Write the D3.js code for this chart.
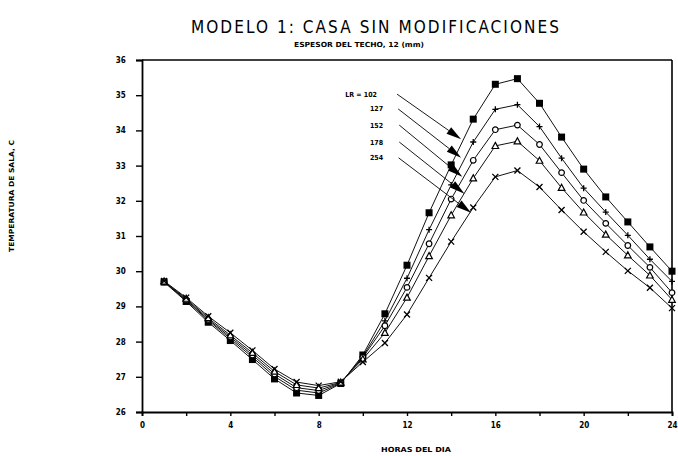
<!DOCTYPE html>
<html><head><meta charset="utf-8">
<script src="https://cdn.jsdelivr.net/npm/d3@7"></script>
<style>body{margin:0;background:#fff}svg{display:block}</style>
</head><body><svg id="c" width="678" height="456"></svg>
<script>
const hours = [1,2,3,4,5,6,7,8,9,10,11,12,13,14,15,16,17,18,19,20,21,22,23,24];
const lr102 = [29.69,29.14,28.55,28.03,27.49,26.94,26.54,26.47,26.81,27.62,28.79,30.17,31.66,33.02,34.32,35.31,35.47,34.77,33.81,32.90,32.11,31.40,30.69,30.00];
const lr127 = [29.70,29.17,28.60,28.08,27.56,27.01,26.62,26.54,26.82,27.58,28.59,29.80,31.18,32.45,33.67,34.60,34.73,34.11,33.21,32.36,31.68,31.02,30.34,29.71];
const lr152 = [29.70,29.19,28.63,28.13,27.62,27.08,26.69,26.61,26.83,27.55,28.45,29.54,30.78,32.05,33.15,34.02,34.15,33.60,32.80,32.01,31.36,30.73,30.11,29.39];
const lr178 = [29.71,29.22,28.67,28.18,27.68,27.15,26.77,26.68,26.84,27.50,28.25,29.25,30.43,31.59,32.64,33.56,33.69,33.14,32.37,31.67,31.04,30.45,29.88,29.19];
const lr254 = [29.72,29.25,28.72,28.25,27.75,27.22,26.85,26.75,26.86,27.42,27.96,28.77,29.81,30.84,31.81,32.68,32.86,32.39,31.74,31.12,30.55,30.01,29.53,28.95];
const seriesNames = ["LR = 102","127","152","178","254"];
const seriesMarkers = ["square","plus","circle","triangle","cross"];
// label end (hour, temperature), arrow start and arrow tip (hour, temperature)
const labelAt = [[10.64,35.03],[10.92,34.61],[10.92,34.15],[10.92,33.67],[10.92,33.22]];
const arrowStart = [[11.55,35.03],[11.6,34.61],[11.65,34.15],[11.65,33.67],[11.62,33.22]];
const arrowTip = [[14.45,33.75],[14.45,33.22],[14.5,32.68],[14.6,32.2],[14.9,31.66]];
const xTicks = [0,2,4,6,8,10,12,14,16,18,20,22,24];
const xTickLabels = [0,4,8,12,16,20,24];
const yTicks = [26,27,28,29,30,31,32,33,34,35,36];
const title = "MODELO 1: CASA SIN MODIFICACIONES";
const subtitle = "ESPESOR DEL TECHO, 12 (mm)";
const xTitle = "HORAS DEL DIA";
const yTitle = "TEMPERATURA DE SALA, C";

const data = [lr102, lr127, lr152, lr178, lr254];
const svg = d3.select("#c");
const x = d3.scaleLinear().domain([0,24]).range([142,672]);
const y = d3.scaleLinear().domain([26,36]).range([412,60]);
const F = "'Liberation Sans Narrow','DejaVu Sans Condensed',sans-serif";

// frame
const g = svg.append("g");
g.append("line").attr("x1",x(24)).attr("x2",x(24)).attr("y1",y(36)).attr("y2",y(26)).attr("stroke","#000").attr("stroke-width",1.6);
g.append("line").attr("x1",x(0)).attr("x2",x(24)).attr("y1",y(36)).attr("y2",y(36)).attr("stroke","#000").attr("stroke-width",1.6);

const xAxis = d3.axisBottom(x).tickValues(xTicks).tickSize(4).tickFormat(d => xTickLabels.includes(d) ? d : "");
const gx = svg.append("g").attr("transform",`translate(0,${y(26)})`).call(xAxis);
gx.select(".domain").attr("stroke-width",1.8);
gx.selectAll(".tick line").attr("stroke-width",1.4);
gx.selectAll("text").attr("font-family",F).attr("font-weight","bold").attr("font-size",8).attr("dy","1.1em");

const yAxis = d3.axisLeft(y).tickValues(yTicks).tickSize(6).tickFormat(d3.format("d"));
const gy = svg.append("g").attr("transform",`translate(${x(0)},0)`).call(yAxis);
gy.select(".domain").attr("stroke-width",1.8);
gy.selectAll(".tick line").attr("stroke-width",1.4);
gy.selectAll("text").attr("font-family",F).attr("font-weight","bold").attr("font-size",8).attr("dx","-0.9em");

// lines
const line = d3.line().x((d,i)=>x(hours[i])).y(d=>y(d));
data.forEach((s,k)=>{
  svg.append("path").attr("d",line(s)).attr("fill","none").attr("stroke","#111").attr("stroke-width",1);
});

// markers
function drawMarker(sel, type){
  if(type==="square") sel.append("rect").attr("x",-3.5).attr("y",-3.5).attr("width",7).attr("height",7).attr("fill","#000");
  else if(type==="plus") sel.append("path").attr("d","M-3,0H3M0,-3V3").attr("stroke","#000").attr("stroke-width",1.3);
  else if(type==="circle") sel.append("circle").attr("r",2.8).attr("fill","#fff").attr("stroke","#000").attr("stroke-width",1.2);
  else if(type==="triangle") sel.append("path").attr("d","M0,-3.5L3.3,2.6H-3.3Z").attr("fill","#fff").attr("stroke","#000").attr("stroke-width",1.2);
  else if(type==="cross") sel.append("path").attr("d","M-3,-3L3,3M-3,3L3,-3").attr("stroke","#000").attr("stroke-width",1.3);
}
data.forEach((s,k)=>{
  s.forEach((v,i)=>{
    const m = svg.append("g").attr("transform",`translate(${x(hours[i])},${y(v)})`);
    drawMarker(m, seriesMarkers[k]);
  });
});

// labels + arrows
seriesNames.forEach((n,k)=>{
  const lx = x(labelAt[k][0]), ly = y(labelAt[k][1]);
  svg.append("text").attr("x",lx).attr("y",ly+2.5).attr("text-anchor","end").attr("font-family",F)
    .attr("font-weight","bold").attr("font-size",7).text(n);
  const sx = x(arrowStart[k][0]), sy = y(arrowStart[k][1]);
  const tx = x(arrowTip[k][0]), ty = y(arrowTip[k][1]);
  const ang = Math.atan2(ty-sy, tx-sx);
  const L = 15, W = 4;
  const bx = tx - L*Math.cos(ang), by = ty - L*Math.sin(ang);
  svg.append("line").attr("x1",sx).attr("y1",sy).attr("x2",bx).attr("y2",by).attr("stroke","#000").attr("stroke-width",0.9);
  const px = -Math.sin(ang)*W, py = Math.cos(ang)*W;
  svg.append("path").attr("d",`M${tx},${ty}L${bx+px},${by+py}L${bx-px},${by-py}Z`).attr("fill","#000");
});

// titles
svg.append("text").attr("x",375).attr("y",33).attr("text-anchor","middle").attr("font-family","'Liberation Sans Narrow','DejaVu Sans Condensed',sans-serif")
  .attr("font-size",17).attr("textLength",368).attr("lengthAdjust","spacing").text(title);
svg.append("text").attr("x",359).attr("y",47).attr("text-anchor","middle").attr("font-family",F).attr("font-weight","bold")
  .attr("font-size",7).attr("textLength",130).attr("lengthAdjust","spacingAndGlyphs").text(subtitle);
svg.append("text").attr("x",416).attr("y",452).attr("text-anchor","middle").attr("font-family",F).attr("font-weight","bold")
  .attr("font-size",7).attr("textLength",70).attr("lengthAdjust","spacingAndGlyphs").text(xTitle);
svg.append("text").attr("transform","translate(14,196) rotate(-90)").attr("text-anchor","middle").attr("font-family",F).attr("font-weight","bold")
  .attr("font-size",7).attr("textLength",112).attr("lengthAdjust","spacingAndGlyphs").text(yTitle);
</script></body></html>
